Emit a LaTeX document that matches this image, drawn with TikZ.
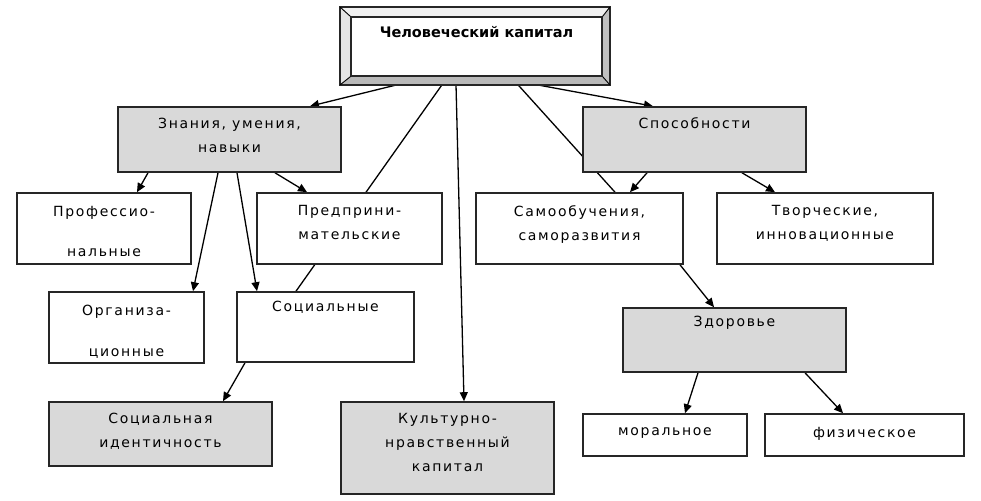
\documentclass[tikz,border=0pt]{standalone}
\usepackage{fontspec}
\setmainfont{DejaVu Sans}
\newfontfamily\boxfont{DejaVu Sans}[LetterSpace=12]
\usetikzlibrary{arrows.meta,backgrounds}
\definecolor{boxgray}{RGB}{217,217,217}

\begin{document}
\begin{tikzpicture}[x=1pt,y=-1pt,
		box/.style={draw=black!85, line width=1.6pt, fill=white, inner sep=0pt},
		gbox/.style={box, fill=boxgray},
		txt/.style={anchor=north, align=center, inner sep=0pt, font=\boxfont\fontsize{14}{24}\selectfont},
		arr/.style={line width=1.3pt, -{Triangle[length=9pt,width=8pt]}},
		ln/.style={line width=1.3pt}]
		\useasboundingbox (0,0) rectangle (981,500);

		% главный блок
		\node[box, fill=gray!35, minimum width=268pt, minimum height=76pt] (hk) at (475,46) {};
		\fill[gray!12] (hk.north west) -- (hk.north east) -- (602,17) -- (351,17) -- cycle;
		\fill[gray!20] (hk.north west) -- (351,17) -- (351,76) -- (hk.south west) -- cycle;
		\fill[gray!55] (hk.south west) -- (351,76) -- (602,76) -- (hk.south east) -- cycle;
		\fill[gray!50] (hk.north east) -- (602,17) -- (602,76) -- (hk.south east) -- cycle;
		\draw[line width=1.6pt, black!85] (hk.north west) rectangle (hk.south east);
		\node[box, line width=1.2pt, minimum width=251pt, minimum height=59pt,
			label={[anchor=north, yshift=-10pt, inner sep=0pt, font=\bfseries\fontsize{14.5}{16}\selectfont]north:Человеческий капитал}]
			(hkin) at (476.5,46.5) {};
		\draw[line width=.9pt] (hk.north west) -- (hkin.north west);
		\draw[line width=.9pt] (hk.north east) -- (hkin.north east);
		\draw[line width=.9pt] (hk.south west) -- (hkin.south west);
		\draw[line width=.9pt] (hk.south east) -- (hkin.south east);

		% второй уровень
		\node[gbox, minimum width=223pt, minimum height=65pt,
			label={[txt, yshift=-12pt]north:Знания, умения,\\навыки}] (znan) at (229.5,139.5) {};
		\node[gbox, minimum width=223pt, minimum height=65pt,
			label={[txt, yshift=-11pt]north:Способности}] (spos) at (694.5,139.5) {};

		% третий уровень
		\node[box, minimum width=174pt, minimum height=71pt,
			label={[txt, yshift=-14pt]north:Профессио-\\[16pt]нальные}] (prof) at (104,228.5) {};
		\node[box, minimum width=185pt, minimum height=71pt,
			label={[txt, yshift=-13pt]north:Предприни-\\мательские}] (pred) at (349.5,228.5) {};
		\node[box, minimum width=207pt, minimum height=71pt,
			label={[txt, yshift=-13pt]north:Самообучения,\\саморазвития}] (samo) at (579.5,228.5) {};
		\node[box, minimum width=216pt, minimum height=71pt,
			label={[txt, yshift=-13pt]north:Творческие,\\инновационные}] (tvor) at (825,228.5) {};

		% четвёртый уровень
		\node[box, minimum width=155pt, minimum height=71pt,
			label={[txt, yshift=-14pt]north:Организа-\\[17pt]ционные}] (org) at (126.5,327.5) {};
		\node[box, minimum width=177pt, minimum height=70pt,
			label={[txt, yshift=-10pt]north:Социальные}] (soc) at (325.5,327) {};
		\node[gbox, minimum width=223pt, minimum height=64pt,
			label={[txt, yshift=-9pt]north:Здоровье}] (zdor) at (734.5,340) {};

		% нижний уровень
		\node[gbox, minimum width=223pt, minimum height=64pt,
			label={[txt, yshift=-12pt]north:Социальная\\идентичность}] (sid) at (160.5,434) {};
		\node[gbox, minimum width=213pt, minimum height=92pt,
			label={[txt, yshift=-12pt]north:Культурно-\\нравственный\\капитал}] (kult) at (447.5,448) {};
		\node[box, minimum width=164pt, minimum height=42pt,
			label={[txt, yshift=-14pt]north:моральное}] (mor) at (665,435) {};
		\node[box, minimum width=199pt, minimum height=42pt,
			label={[txt, yshift=-14pt]north:физическое}] (fiz) at (864.5,435) {};

		% связи
		\begin{pgfonlayer}{background}
			\draw[arr] ([xshift=-78pt]hk.south) -- ([xshift=80.5pt]znan.north);
			\draw[ln] ([xshift=-33pt]hk.south) -- ([xshift=-29.5pt]soc.north);
			\draw[arr] ([xshift=-19pt]hk.south) -- ([xshift=16.5pt]kult.north);
			\draw[ln] ([xshift=43pt]hk.south) -- ([xshift=35.5pt]samo.north);
			\draw[arr] ([xshift=62pt]hk.south) -- ([xshift=-41.5pt]spos.north);

			\draw[arr] ([xshift=-81.5pt]znan.south) -- ([xshift=33pt]prof.north);
			\draw[arr] ([xshift=-11.5pt]znan.south) -- ([xshift=66.5pt]org.north);
			\draw[arr] ([xshift=7.5pt]znan.south) -- ([xshift=-68.5pt]soc.north);
			\draw[arr] ([xshift=45.5pt]znan.south) -- ([xshift=-42.5pt]pred.north);

			\draw[arr] ([xshift=-47.5pt]spos.south) -- ([xshift=50.5pt]samo.north);
			\draw[arr] ([xshift=47.5pt]spos.south) -- ([xshift=-50pt]tvor.north);

			\draw[arr] ([xshift=100.5pt]samo.south) -- ([xshift=-20.5pt]zdor.north);
			\draw[arr] ([xshift=-80.5pt]soc.south) -- ([xshift=62.5pt]sid.north);
			\draw[arr] ([xshift=-36.5pt]zdor.south) -- ([xshift=20pt]mor.north);
			\draw[arr] ([xshift=70.5pt]zdor.south) -- ([xshift=-21.5pt]fiz.north);
		\end{pgfonlayer}
	\end{tikzpicture}
\end{document}
